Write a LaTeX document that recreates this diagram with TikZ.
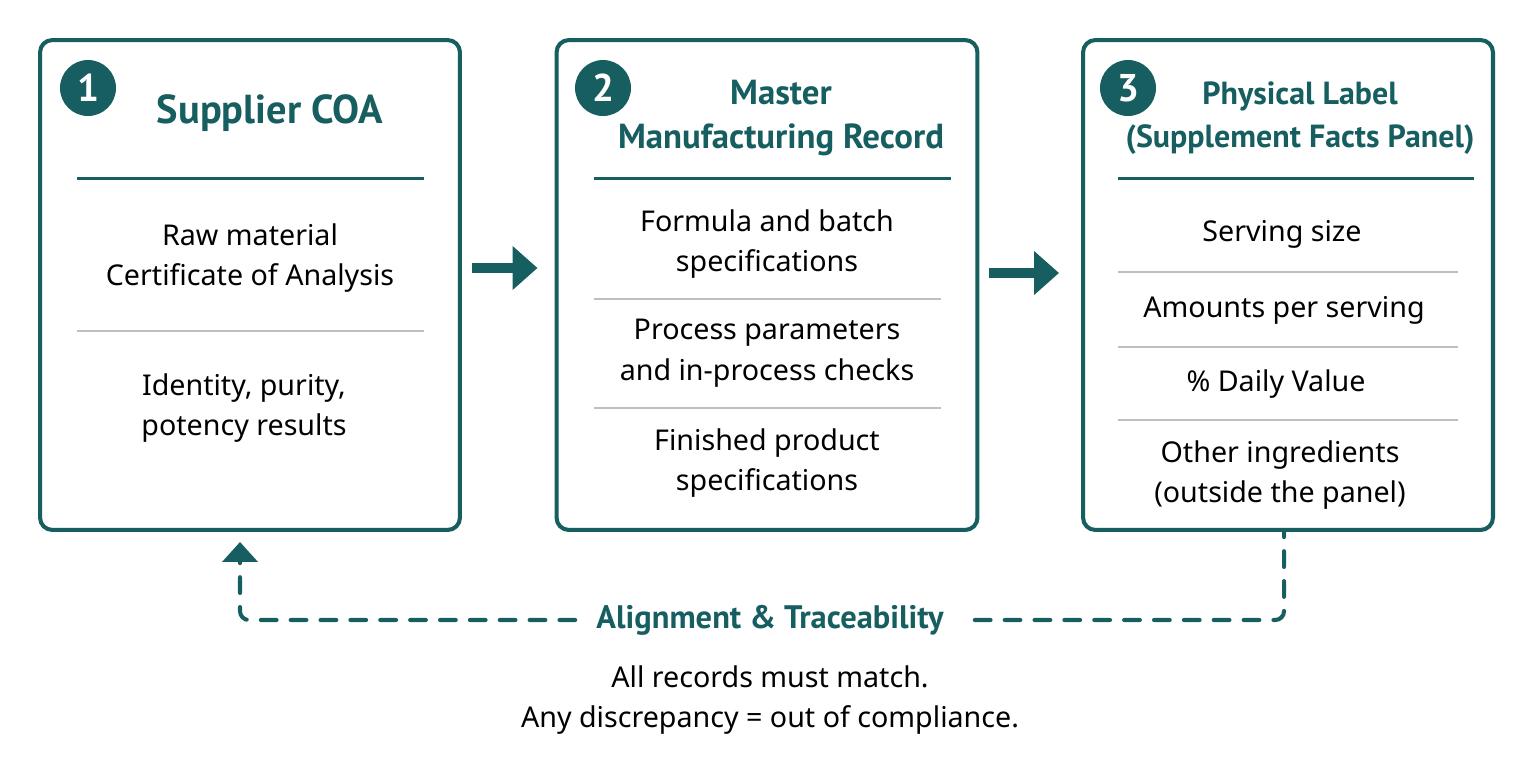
\documentclass[tikz,border=0pt]{standalone}
\usepackage{fontspec}
\setmainfont{Noto Sans}
\newfontfamily\headfont{PT Sans}
\usetikzlibrary{positioning, arrows.meta}
\definecolor{tealdk}{RGB}{22,94,96}

\begin{document}
\begin{tikzpicture}[
  x=0.02cm, y=-0.02cm,
  font=\fontsize{16.3}{23}\selectfont,
  panel/.style={draw=tealdk, line width=2.3pt, rounded corners=7pt,
                minimum height=9.8cm, fill=white},
  badge/.style={circle, fill=tealdk, text=white, minimum size=1.12cm,
                inner sep=0pt, font=\headfont\bfseries\fontsize{22}{22}\selectfont},
  head/.style={text=tealdk, align=center,
               font=\headfont\bfseries\fontsize{19.8}{24.5}\selectfont},
  item/.style={align=center},
  rule/.style={draw=tealdk, line width=1.7pt},
  split/.style={draw=black!25, line width=0.8pt},
  bigarr/.style={-{Triangle[length=0.5cm, width=0.85cm]}, draw=tealdk,
                 line width=0.2cm},
  dasharr/.style={draw=tealdk, line width=2.3pt, line cap=round,
                  dash pattern=on 9pt off 8pt, rounded corners=5pt},
]
\useasboundingbox (0,0) rectangle (1530,778);
% ---- three panels ----
\node[panel, minimum width=8.4cm]  (b1) at (250,285)  {};
\node[panel, minimum width=8.42cm] (b2) at (767,285)  {};
\node[panel, minimum width=8.2cm]  (b3) at (1288,285) {};
% ---- panel 1: supplier COA ----
\node[badge] (n1) at (88,88) {1};
\node[head, font=\headfont\bfseries\fontsize{23}{26}\selectfont] (t1) at (270,113) {Supplier COA};
\draw[rule] (77,178) -- (424,178);
\node[item] (c1) at (250,258) {Raw material\\Certificate of Analysis};
\draw[split] (77,331) -- (424,331);
\node[item] (c2) at (244,408) {Identity, purity,\\potency results};
% ---- panel 2: master manufacturing record ----
\node[badge] (n2) at (603,88) {2};
\node[head] (t2) at (781,118) {Master\\Manufacturing Record};
\draw[rule] (594,178) -- (951,178);
\node[item] (m1) at (767,244) {Formula and batch\\specifications};
\draw[split] (594,299) -- (941,299);
\node[item] (m2) at (767,353) {Process parameters\\and in-process checks};
\draw[split] (594,408) -- (941,408);
\node[item] (m3) at (767,463) {Finished product\\specifications};
% ---- panel 3: physical label ----
\node[badge] (n3) at (1128,88) {3};
\node[head, font=\headfont\bfseries\fontsize{18.2}{24.5}\selectfont] (t3) at (1300,118) {Physical Label\\(Supplement Facts Panel)};
\draw[rule] (1118,178) -- (1474,178);
\node[item] (p1) at (1282,234) {Serving size};
\draw[split] (1118,272) -- (1458,272);
\node[item] (p2) at (1284,310) {Amounts per serving};
\draw[split] (1118,347) -- (1458,347);
\node[item] (p3) at (1276,384) {\% Daily Value};
\draw[split] (1118,420) -- (1458,420);
\node[item] (p4) at (1280,475) {Other ingredients\\(outside the panel)};
% ---- flow arrows ----
\draw[bigarr] ([xshift=0.2cm, yshift=0.34cm]b1.east) -- ([xshift=-0.34cm, yshift=0.34cm]b2.west);
\draw[bigarr] ([xshift=0.2cm, yshift=0.24cm]b2.east) -- ([xshift=-0.44cm, yshift=0.24cm]b3.west);
% ---- traceability loop ----
\node[head, font=\headfont\bfseries\fontsize{18.5}{22}\selectfont] (al) at (770,620) {Alignment \& Traceability};
\node[item] (note) at (770,700) {All records must match.\\Any discrepancy = out of compliance.};
\draw[dasharr] ([xshift=0.5cm]al.east) -| ([xshift=-0.08cm]b3.south);
\draw[dasharr] ([xshift=-0.3cm]al.west) -| ([xshift=-0.2cm, yshift=-0.5cm]b1.south);
\draw[-{Triangle[length=0.4cm, width=0.7cm]}, draw=tealdk, line width=2.3pt]
  ([xshift=-0.2cm, yshift=-0.55cm]b1.south) -- ([xshift=-0.2cm, yshift=-0.2cm]b1.south);
\end{tikzpicture}
\end{document}
